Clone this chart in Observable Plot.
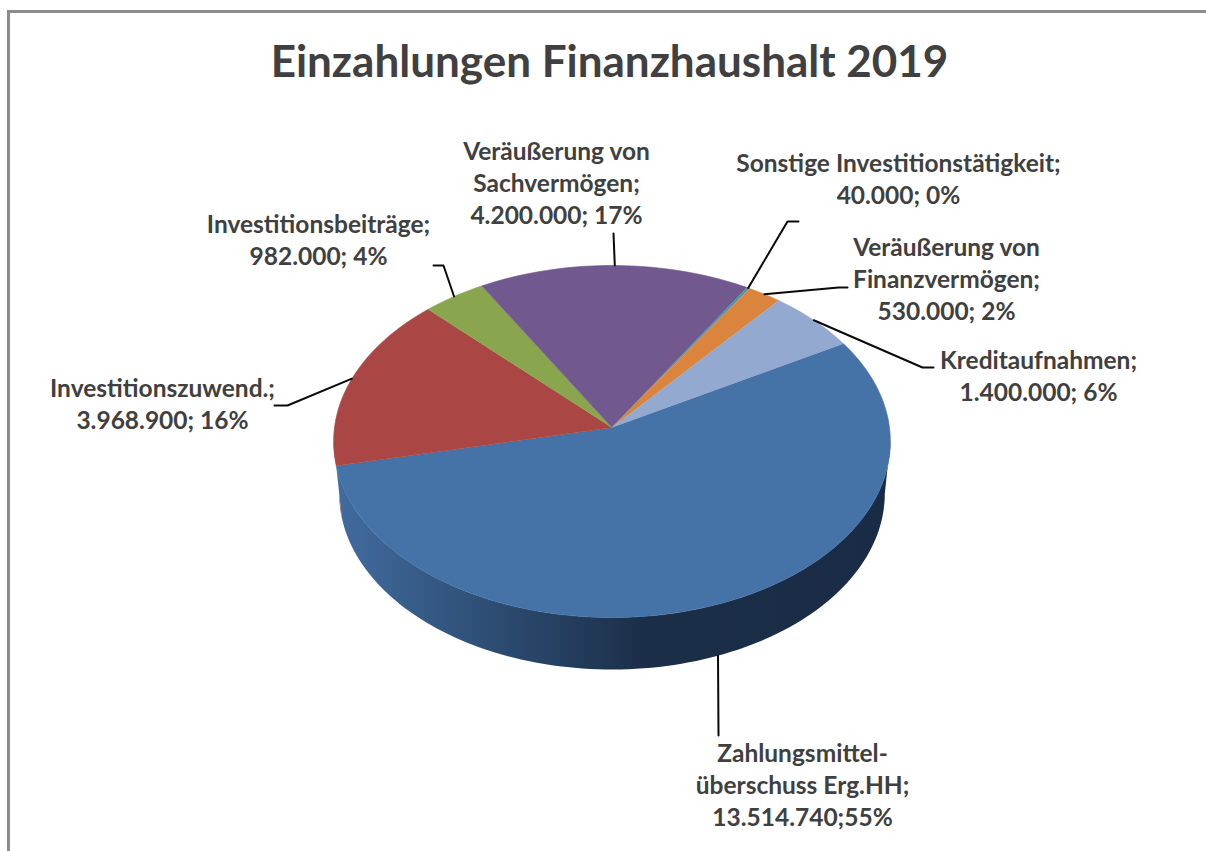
<!DOCTYPE html>
<html><head><meta charset="utf-8">
<script src="https://cdn.jsdelivr.net/npm/d3@7"></script>
<script src="https://cdn.jsdelivr.net/npm/@observablehq/plot@0.6"></script>
<style>
html,body{margin:0;padding:0;background:#fff;overflow:hidden}
#frame{position:absolute;left:7px;top:10px;right:0;bottom:0;border-left:3px solid #8c8c8c;border-top:3px solid #8c8c8c}
#chart{position:absolute;left:0;top:0}
</style></head><body>
<div id="frame"></div><div id="chart"></div>
<script>
// Data, clockwise from the start of the largest slice
const names = ["Zahlungsmittelüberschuss","Investitionszuwend.","Investitionsbeiträge","Sachvermögen","Sonstige","Finanzvermögen","Kreditaufnahmen"];
const values = [13514740, 3968900, 982000, 4200000, 40000, 530000, 1400000];
const labels = [
  "Zahlungsmittel-\nüberschuss Erg.HH;\n13.514.740;55%",
  "Investitionszuwend.;\n3.968.900; 16%",
  "Investitionsbeiträge;\n982.000; 4%",
  "Veräußerung von\nSachvermögen;\n4.200.000; 17%",
  "Sonstige Investitionstätigkeit;\n40.000; 0%",
  "Veräußerung von\nFinanzvermögen;\n530.000; 2%",
  "Kreditaufnahmen;\n1.400.000; 6%"
];
const colors = ["#4572A7","#AA4643","#89A54E","#71588F","#4198AF","#DB843D","#93A9CF"];
const title = "Einzahlungen Finanzhaushalt 2019";

// Layout (page pixels): label centres and leader bends
const labelX = [802,162,318,556,898,946,1038];
const labelY = [783,402,238.5,181,177.5,277,374];
const leaderBends = [
  [[718,735]],
  [[287,405],[274,405]],
  [[443,265],[433,265]],
  [[613,233]],
  [[787,221],[798,221]],
  [[838,287],[847,287]],
  [[922,367],[933,367]]
];
const startAngle = -29.9, persp = 0.0795, cx = 611.5, cy = 427, R = 277.5, H = 174.9, depth = 52, lowerScale = 0.98;
const tangent = Math.asin(persp) * 180 / Math.PI;

function project(deg, lower) {
  const t = deg * Math.PI / 180, u = Math.cos(t), v = Math.sin(t), w = 1 - persp * v;
  const s = lower ? lowerScale : 1;
  return {x: cx + s * R * u / w, y: cy + H * v / w + (lower ? depth : 0)};
}
const total = d3.sum(values);
let acc = startAngle;
const slices = values.map((v, i) => {
  const a0 = acc, a1 = acc + v / total * 360; acc = a1;
  return {name: names[i], a0, a1, mid: (a0 + a1) / 2, i};
});
const arc = (a0, a1, lower) => d3.range(0, 1.0001, 1 / Math.max(2, Math.ceil((a1 - a0) / 1.5)))
  .map(f => project(a0 + f * (a1 - a0), lower));
const topPts = slices.flatMap(s => [{x: cx, y: cy}, ...arc(s.a0, s.a1, false)].map(p => ({...p, name: s.name})));
// Only the front of the wall shows: between the two silhouette angles
const sidePts = slices.flatMap(s => {
  const a0 = Math.max(s.a0, tangent), a1 = Math.min(s.a1, 180 - tangent);
  if (a1 <= a0) return [];
  return [...arc(a0, a1, false), ...arc(a0, a1, true).reverse()].map(p => ({...p, name: s.name}));
});
const blueSide = sidePts.filter(p => p.name === names[0]);
const otherSide = sidePts.filter(p => p.name !== names[0]);
const leaderPts = slices.flatMap((s, i) => {
  const start = project(s.mid, i === 0);
  return [start, ...leaderBends[i].map(([x, y]) => ({x, y}))].map(p => ({...p, name: s.name}));
});
const gradient = () => {
  const d = d3.create("svg:defs");
  const g = d.append("linearGradient").attr("id", "sideBlue").attr("x1", 0).attr("x2", 1).attr("y1", 0).attr("y2", 0);
  [[0,"#426c9f"],[0.25,"#2f5078"],[0.56,"#1b2e48"],[1,"#1a2c45"]].forEach(([o,c]) => g.append("stop").attr("offset", o).attr("stop-color", c));
  return d.node();
};
const fontFamily = "Lato, Carlito, sans-serif";
const plot = Plot.plot({
  width: 1206, height: 851, margin: 0,
  x: {domain: [0, 1206], axis: null},
  y: {domain: [851, 0], axis: null},
  color: {domain: names, range: colors},
  style: {background: "transparent"},
  marks: [
    gradient,
    Plot.line(otherSide, {x: "x", y: "y", z: "name", fill: "name", stroke: "none"}),
    Plot.line(blueSide, {x: "x", y: "y", fill: "url(#sideBlue)", stroke: "none"}),
    Plot.line(topPts, {x: "x", y: "y", z: "name", fill: "name", stroke: "name", strokeWidth: 0.6}),
    Plot.line(leaderPts, {x: "x", y: "y", z: "name", stroke: "#0a0a0a", strokeWidth: 2, curve: "linear"}),
    Plot.text(labels, {x: (d, i) => labelX[i], y: (d, i) => labelY[i], text: d => d, fontSize: 24.5, fontWeight: 700, fill: "#404040", lineHeight: 1.3, fontFamily}),
    Plot.text([title], {x: () => 609, y: () => 62, text: d => d, fontSize: 44, fontWeight: 700, fill: "#404040", fontFamily})
  ]
});
document.getElementById("chart").append(plot);
</script></body></html>
